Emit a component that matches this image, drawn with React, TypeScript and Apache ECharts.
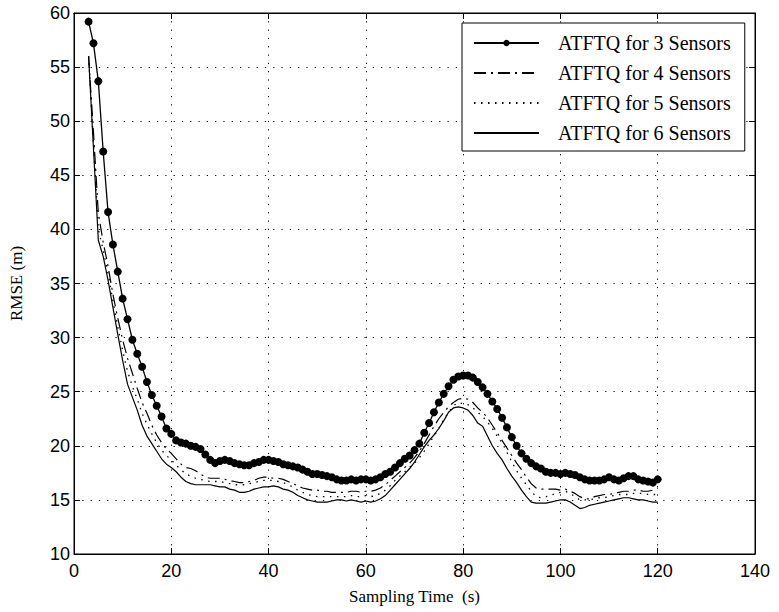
import React, { useEffect, useRef } from "react";
import * as echarts from "echarts";

const T_START = 3;
const T_STEP = 1;

const sensors3 = [
  59.2, 57.2, 53.7, 47.2, 41.6, 38.6, 36.1, 33.6, 31.7, 29.8,
  28.5, 27.3, 25.9, 24.7, 23.7, 22.7, 21.6, 21.1, 20.5, 20.3,
  20.2, 20.0, 19.9, 19.7, 19.2, 18.7, 18.4, 18.6, 18.7, 18.6,
  18.4, 18.3, 18.2, 18.2, 18.4, 18.5, 18.7, 18.7, 18.6, 18.5,
  18.3, 18.2, 18.1, 18.0, 17.8, 17.6, 17.4, 17.4, 17.3, 17.2,
  17.1, 16.9, 16.8, 16.8, 16.9, 16.8, 16.9, 16.9, 16.8, 16.9,
  17.1, 17.4, 17.6, 18.0, 18.4, 18.8, 19.1, 19.6, 20.2, 21.2,
  22.1, 23.1, 24.0, 24.8, 25.5, 26.1, 26.4, 26.5, 26.5, 26.3,
  25.9, 25.4, 24.8, 24.1, 23.4, 22.6, 21.7, 20.8, 20.0, 19.3,
  18.8, 18.4, 18.1, 17.9, 17.6, 17.5, 17.5, 17.4, 17.5, 17.4,
  17.3, 17.1, 16.9, 16.8, 16.8, 16.8, 16.9, 17.1, 16.9, 16.8,
  17.0, 17.2, 17.2, 16.9, 16.8, 16.7, 16.6, 16.9,
];

const sensors4 = [
  56.0, 49.0, 41.5, 38.8, 36.6, 34.0, 31.8, 29.8, 28.1, 26.7,
  25.3, 24.0, 23.0, 21.9, 21.0, 20.3, 19.7, 19.3, 18.8, 18.3,
  18.0, 17.9, 17.7, 17.4, 17.1, 17.0, 17.0, 17.0, 16.9, 16.8,
  16.7, 16.6, 16.6, 16.7, 16.8, 17.0, 17.1, 17.1, 17.0, 17.0,
  16.9, 16.7, 16.5, 16.3, 16.1, 16.0, 15.9, 15.9, 15.8, 15.8,
  15.7, 15.7, 15.7, 15.7, 15.8, 15.8, 15.7, 15.8, 15.8, 15.9,
  16.1, 16.4, 16.8, 17.2, 17.6, 18.0, 18.4, 18.9, 19.5, 20.2,
  21.0, 21.8, 22.5, 23.1, 23.6, 24.0, 24.3, 24.4, 24.3, 24.0,
  23.5, 23.1, 22.6, 21.9, 21.2, 20.5, 19.8, 19.1, 18.4, 17.8,
  17.1, 16.5, 16.1, 16.0, 16.0, 16.0, 16.0, 15.9, 16.0, 15.8,
  15.6, 15.3, 15.1, 15.1, 15.3, 15.4, 15.5, 15.5, 15.6, 15.7,
  15.8, 15.8, 15.9, 15.9, 15.8, 15.8, 15.9, 16.1,
];

const sensors5 = [
  56.0, 48.0, 40.0, 38.1, 35.9, 33.4, 31.0, 28.8, 26.9, 25.5,
  24.3, 23.0, 22.0, 21.1, 20.3, 19.6, 19.1, 18.7, 18.2, 17.8,
  17.4, 17.2, 17.0, 16.9, 16.8, 16.7, 16.7, 16.7, 16.6, 16.5,
  16.4, 16.4, 16.4, 16.5, 16.6, 16.7, 16.8, 16.8, 16.8, 16.7,
  16.6, 16.4, 16.2, 15.9, 15.7, 15.5, 15.4, 15.3, 15.3, 15.3,
  15.3, 15.3, 15.3, 15.3, 15.4, 15.3, 15.3, 15.4, 15.3, 15.4,
  15.6, 15.9, 16.3, 16.8, 17.2, 17.6, 18.0, 18.4, 18.9, 19.5,
  20.2, 20.9, 21.6, 22.4, 23.1, 23.7, 24.0, 23.9, 23.8, 23.5,
  23.1, 22.7, 22.2, 21.6, 20.9, 20.3, 19.4, 18.5, 17.7, 17.0,
  16.4, 15.8, 15.3, 15.2, 15.3, 15.4, 15.6, 15.7, 15.8, 15.6,
  15.3, 15.0, 15.0, 15.0, 15.1, 15.2, 15.2, 15.3, 15.4, 15.5,
  15.5, 15.5, 15.6, 15.6, 15.6, 15.5, 15.5, 15.5,
];

const sensors6 = [
  56.0, 47.5, 39.0, 37.5, 35.3, 32.8, 30.3, 27.9, 25.7, 24.5,
  23.3, 21.9, 20.9, 20.2, 19.5, 18.8, 18.3, 18.0, 17.6, 17.1,
  16.7, 16.5, 16.4, 16.4, 16.4, 16.4, 16.3, 16.2, 16.2, 16.0,
  15.9, 15.7, 15.7, 15.8, 16.0, 16.1, 16.2, 16.2, 16.3, 16.2,
  16.0, 15.9, 15.7, 15.4, 15.2, 15.0, 14.9, 14.8, 14.8, 14.8,
  14.9, 15.0, 15.0, 14.9, 15.0, 14.9, 14.8, 14.9, 14.8, 14.9,
  15.1, 15.4, 15.9, 16.4, 16.9, 17.4, 17.9, 18.5, 19.2, 19.9,
  20.5, 21.0, 21.6, 22.3, 23.1, 23.5, 23.6, 23.5, 23.3, 22.8,
  22.1, 21.8, 20.9, 20.0, 19.3, 18.7, 17.9, 17.2, 16.6, 15.9,
  15.3, 14.8, 14.7, 14.7, 14.7, 14.8, 14.9, 15.0, 15.0, 14.8,
  14.5, 14.2, 14.3, 14.5, 14.6, 14.7, 14.8, 14.9, 15.0, 15.1,
  15.2, 15.2, 15.1, 15.0, 15.0, 14.9, 14.8, 14.8,
];

const seriesNames = [
  "ATFTQ for 3 Sensors",
  "ATFTQ for 4 Sensors",
  "ATFTQ for 5 Sensors",
  "ATFTQ for 6 Sensors",
];

const xTicks = { min: 0, max: 140, interval: 20 };
const yTicks = { min: 10, max: 60, interval: 5 };

const toPairs = (vals: number[]) => vals.map((v, i) => [T_START + i * T_STEP, v]);

export default function App() {
  const ref = useRef<HTMLDivElement>(null);
  useEffect(() => {
    if (!ref.current) return;
    const chart = echarts.init(ref.current, undefined, { renderer: "svg" });
    const sans = "Liberation Sans, Arial, sans-serif";
    const serif = "Liberation Serif, Times New Roman, serif";
    const grid = { left: 68, right: 24, top: 13, bottom: 58 };
    const splitLine = {
      show: true,
      lineStyle: { color: "#000", width: 1, type: [1.2, 7.1] as any },
    };
    const labelStyle = { color: "#000", fontFamily: sans, fontSize: 18 };
    const hiddenDot = { color: "rgba(0,0,0,0)", borderColor: "rgba(0,0,0,0)", borderWidth: 0 };
    chart.setOption({
      animation: false,
      backgroundColor: "#fff",
      grid: { ...grid, show: true, borderColor: "#000", borderWidth: 1, backgroundColor: "transparent" },
      legend: {
        orient: "vertical",
        left: 462,
        top: 23,
        itemWidth: 65,
        itemHeight: 8,
        itemGap: 10,
        padding: [10, 14, 8, 11],
        borderColor: "#000",
        borderWidth: 1,
        backgroundColor: "#fff",
        textStyle: { color: "#000", fontFamily: serif, fontSize: 20, padding: [0, 0, 0, 14], lineHeight: 20 },
        data: [
          { name: seriesNames[0] },
          { name: seriesNames[1], itemStyle: hiddenDot },
          { name: seriesNames[2], itemStyle: hiddenDot },
          { name: seriesNames[3], itemStyle: hiddenDot },
        ],
      },
      xAxis: [
        {
          type: "value",
          ...xTicks,
          name: "Sampling Time  (s)",
          nameLocation: "middle",
          nameGap: 34,
          nameTextStyle: { color: "#000", fontFamily: serif, fontSize: 17 },
          axisLine: { show: true, onZero: false, lineStyle: { color: "#000", width: 1 } },
          axisTick: { show: true, inside: true, length: 6, lineStyle: { color: "#000" } },
          axisLabel: { ...labelStyle, margin: 8 },
          splitLine,
        },
        {
          type: "value",
          position: "top",
          ...xTicks,
          axisLine: { show: true, onZero: false, lineStyle: { color: "#000", width: 1 } },
          axisTick: { show: true, inside: true, length: 6, lineStyle: { color: "#000" } },
          axisLabel: { show: false },
          splitLine: { show: false },
        },
      ],
      yAxis: [
        {
          type: "value",
          ...yTicks,
          name: "RMSE (m)",
          nameLocation: "middle",
          nameGap: 49,
          nameTextStyle: { color: "#000", fontFamily: serif, fontSize: 17 },
          axisLine: { show: true, onZero: false, lineStyle: { color: "#000", width: 1 } },
          axisTick: { show: true, inside: true, length: 6, lineStyle: { color: "#000" } },
          axisLabel: { ...labelStyle, margin: 4 },
          splitLine,
        },
        {
          type: "value",
          position: "right",
          ...yTicks,
          axisLine: { show: true, onZero: false, lineStyle: { color: "#000", width: 1 } },
          axisTick: { show: true, inside: true, length: 6, lineStyle: { color: "#000" } },
          axisLabel: { show: false },
          splitLine: { show: false },
        },
      ],
      series: [
        {
          name: seriesNames[3],
          type: "line",
          data: toPairs(sensors6),
          symbol: "none",
          lineStyle: { color: "#000", width: 1.2, type: "solid" },
          itemStyle: { color: "#000" },
          z: 2,
        },
        {
          name: seriesNames[2],
          type: "line",
          data: toPairs(sensors5),
          symbol: "none",
          lineStyle: { color: "#000", width: 1.3, type: [1.5, 5.5] },
          itemStyle: { color: "#000" },
          z: 3,
        },
        {
          name: seriesNames[1],
          type: "line",
          data: toPairs(sensors4),
          symbol: "none",
          lineStyle: { color: "#000", width: 1.2, type: [12, 5, 2, 5] },
          itemStyle: { color: "#000" },
          z: 4,
        },
        {
          name: seriesNames[0],
          type: "line",
          data: toPairs(sensors3),
          symbol: "circle",
          symbolSize: 8,
          showSymbol: true,
          lineStyle: { color: "#000", width: 1.3 },
          itemStyle: { color: "#000" },
          z: 5,
        },
      ],
    });
    return () => chart.dispose();
  }, []);
  return <div ref={ref} style={{ width: 779, height: 612, position: "absolute", left: 0, top: 0 }} />;
}
